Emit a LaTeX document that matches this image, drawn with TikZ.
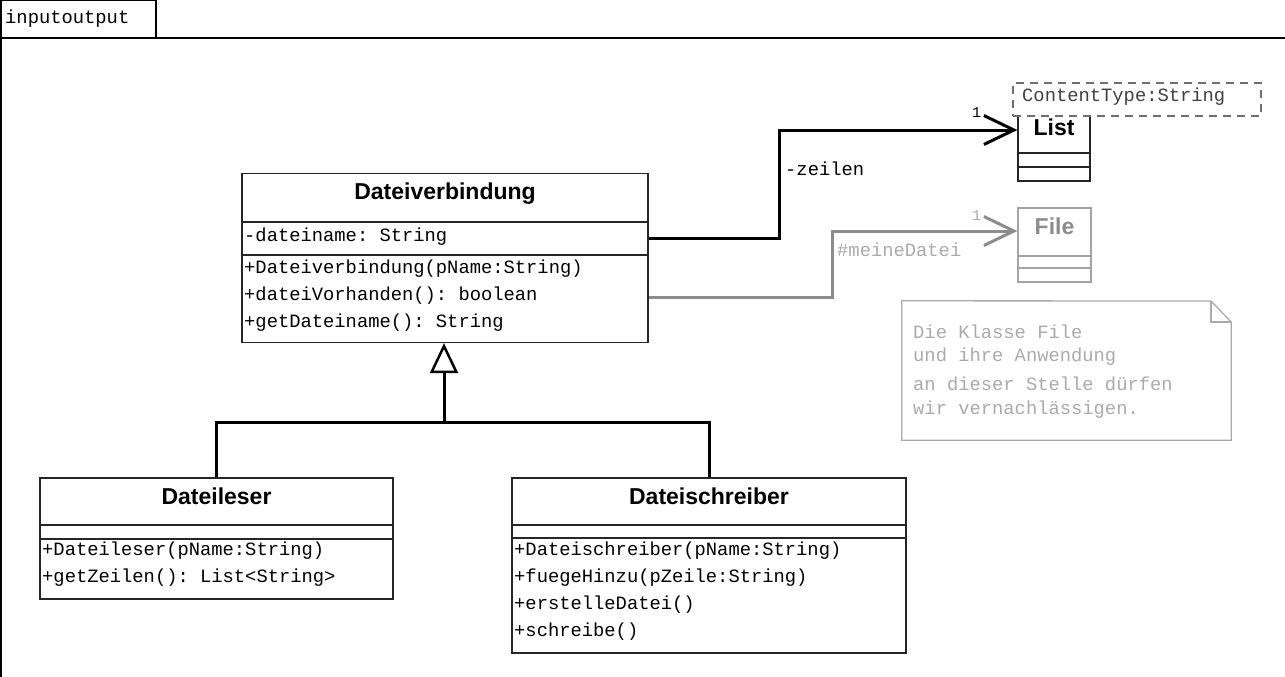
\documentclass[tikz,border=0pt]{standalone}
\usepackage{fontspec}
\setmainfont{Liberation Sans}
\setsansfont{Liberation Sans}
\setmonofont{Liberation Mono}
\usetikzlibrary{arrows.meta}
\newcommand\monof{\ttfamily\fontsize{18.8}{22}\selectfont}
\newcommand\hdrf{\sffamily\bfseries\fontsize{23}{27}\selectfont}
\definecolor{notegray}{HTML}{AAAAAA}
\definecolor{filegray}{HTML}{8C8C8C}
\definecolor{dashgray}{HTML}{6E6E6E}
\tikzset{
  classbox/.style={draw=black!85, line width=1.3, inner sep=0, fill=none},
  member/.style={anchor=west, inner sep=0, font=\monof},
  classname/.style={inner sep=0, font=\hdrf},
  assoc/.style={line width=3, -{Straight Barb[length=30pt,width=29pt]}},
  inherit/.style={line width=3},
}
\begin{document}
\begin{tikzpicture}[x=1pt,y=-1pt]
\useasboundingbox (0,0) rectangle (1285,677);
% package frame
\draw[line width=1.2] (1,677) -- (1,0.6) -- (156,0.6) -- (156,38);
\draw[line width=1.2] (1,38) -- (1285,38);
\node[member] (pkg) at (5,19) {inputoutput};

% Dateiverbindung
\node[classbox, minimum width=406, minimum height=169] (dv) at (445,258) {};
\draw[black!85, line width=1.3] (242,222) -- (648,222);
\draw[black!85, line width=1.3] (242,255) -- (648,255);
\node[classname] (dvn) at (445,194) {Dateiverbindung};
\node[member] (dva) at (244,237) {-dateiname: String};
\node[member] (dvm1) at (244,269) {+Dateiverbindung(pName:String)};
\node[member] (dvm2) at (244,296) {+dateiVorhanden(): boolean};
\node[member] (dvm3) at (244,323) {+getDateiname(): String};

% Dateileser
\node[classbox, minimum width=353, minimum height=121] (dl) at (216.5,538.5) {};
\draw[black!85, line width=1.3] (40,525) -- (393,525);
\draw[black!85, line width=1.3] (40,539) -- (393,539);
\node[classname] (dln) at (216.5,496) {Dateileser};
\node[member] (dlm1) at (42,551) {+Dateileser(pName:String)};
\node[member] (dlm2) at (42,578) {+getZeilen(): List<String>};

% Dateischreiber
\node[classbox, minimum width=394, minimum height=175] (ds) at (709,565.5) {};
\draw[black!85, line width=1.3] (512,525) -- (906,525);
\draw[black!85, line width=1.3] (512,538) -- (906,538);
\node[classname] (dsn) at (709,496) {Dateischreiber};
\node[member] (dsm1) at (514,551) {+Dateischreiber(pName:String)};
\node[member] (dsm2) at (514,578) {+fuegeHinzu(pZeile:String)};
\node[member] (dsm3) at (514,605) {+erstelleDatei()};
\node[member] (dsm4) at (514,632) {+schreibe()};

% List
\node[classbox, minimum width=72, minimum height=73] (list) at (1054,144.5) {};
\draw[black!85, line width=1.3] (1018,153) -- (1090,153);
\draw[black!85, line width=1.3] (1018,167) -- (1090,167);
\node[classname] (listn) at (1054,127) {List};
\node[draw=dashgray, line width=1.3, dash pattern=on 8pt off 6pt, fill=white,
      minimum width=248, minimum height=33, inner sep=0] (ct) at (1137,99.5) {};
\node[member, text=black!75] (ctt) at (1022,97) {ContentType:String};

% File
\node[classbox, draw=filegray!80, minimum width=73, minimum height=74] (file) at (1054.5,245) {};
\draw[filegray!80, line width=1.3] (1018,256) -- (1091,256);
\draw[filegray!80, line width=1.3] (1018,268) -- (1091,268);
\node[classname, text=filegray] (filen) at (1054.5,226) {File};

% note
\node[draw=none, minimum width=329, minimum height=139, inner sep=0] (note) at (1066.5,370.5) {};
\draw[notegray, line width=1.3] (note.north west) -- (1211,301) -- (note.north east |- 0,322) -- (note.south east) -- (note.south west) -- cycle;
\draw[notegray, line width=1.3] (1211,301) -- (1211,322) -- (1231,322);
\node[member, text=notegray] (n1) at (913,332) {Die Klasse File};
\node[member, text=notegray] (n2) at (913,357) {und ihre Anwendung};
\node[member, text=notegray] (n3) at (913,384) {an dieser Stelle dürfen};
\node[member, text=notegray] (n4) at (913,410) {wir vernachlässigen.};

% associations
\draw[assoc] (dv.east |- 0,238) -- (779,238) -- (779,130) -- (list.west |- 0,130);
\node[member] (zl) at (785,169) {-zeilen};
\node[member, font=\monof\fontsize{15}{18}\selectfont] (m1) at (972,113) {1};
\draw[assoc, draw=filegray] (dv.east |- 0,297) -- (832,297) -- (832,231) -- (file.west |- 0,231);
\node[member, text=notegray] (md) at (837,250) {\#meineDatei};
\node[member, text=notegray, font=\monof\fontsize{15}{18}\selectfont] (m2) at (972,216) {1};

% generalization
\coordinate (j) at (444,422);
\draw[inherit] (dl.north) |- (j) -| (ds.north);
\draw[inherit, -{Triangle[open, length=30pt, width=28pt, line width=2.5pt]}] (j) -- (dv.south -| j);
\end{tikzpicture}
\end{document}
